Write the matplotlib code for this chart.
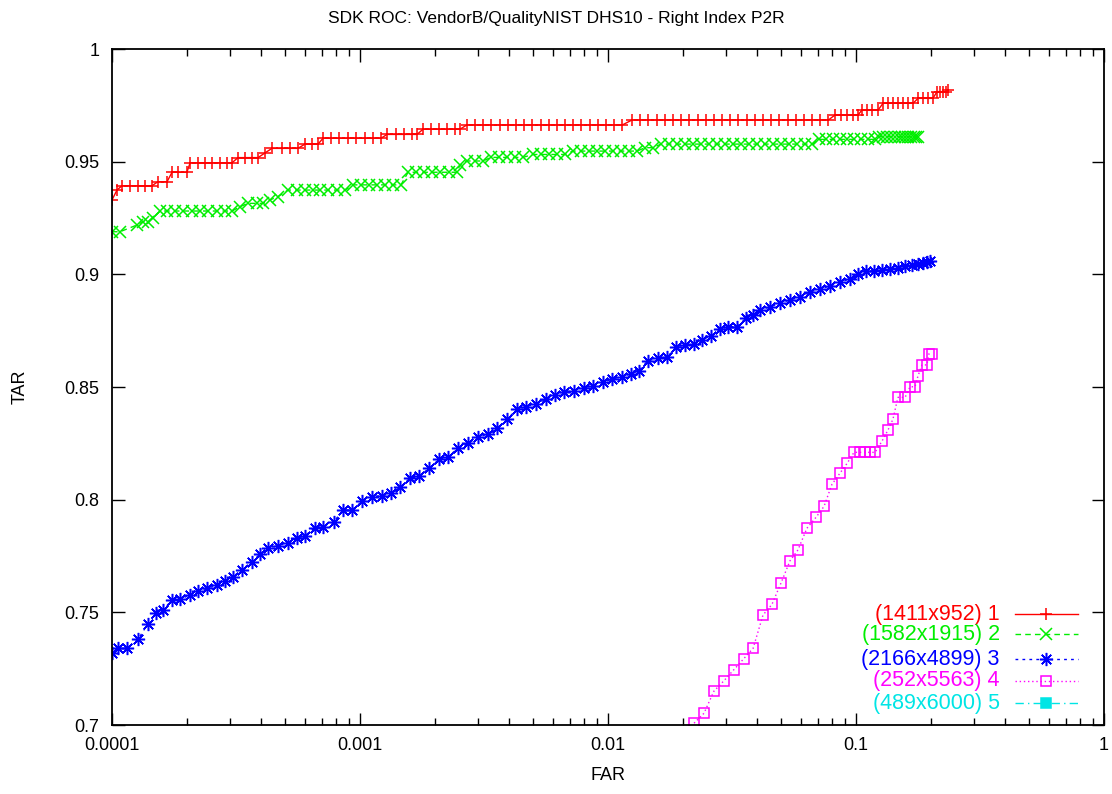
import numpy as np
import matplotlib
matplotlib.use("Agg")
import matplotlib.pyplot as plt
from matplotlib.ticker import FixedLocator, FuncFormatter, NullFormatter

plt.rcParams['font.family'] = ['Liberation Sans', 'DejaVu Sans']

# log10(FAR) and TAR
red_exp = [-4.000, -3.980, -3.960, -3.927, -3.895, -3.867, -3.839, -3.815, -3.778, -3.758,
           -3.734, -3.698, -3.685, -3.653, -3.625, -3.597, -3.565, -3.536, -3.516, -3.492,
           -3.464, -3.435, -3.411, -3.383, -3.355, -3.315, -3.282, -3.250, -3.222, -3.194,
           -3.169, -3.149, -3.117, -3.085, -3.048, -3.016, -2.980, -2.948, -2.915, -2.891,
           -2.855, -2.823, -2.790, -2.770, -2.746, -2.714, -2.681, -2.649, -2.617, -2.597,
           -2.569, -2.536, -2.503, -2.470, -2.437, -2.404, -2.371, -2.338, -2.305, -2.272,
           -2.239, -2.206, -2.173, -2.140, -2.107, -2.074, -2.041, -2.008, -1.975, -1.942,
           -1.903, -1.870, -1.837, -1.804, -1.771, -1.738, -1.705, -1.672, -1.639, -1.606,
           -1.573, -1.540, -1.507, -1.474, -1.441, -1.408, -1.375, -1.342, -1.309, -1.276,
           -1.243, -1.210, -1.177, -1.144, -1.111, -1.085, -1.060, -1.036, -1.012, -0.992,
           -0.976, -0.956, -0.935, -0.911, -0.891, -0.871, -0.851, -0.831, -0.810, -0.790,
           -0.770, -0.750, -0.730, -0.710, -0.690, -0.673, -0.661, -0.649, -0.637, -0.629]
red_tar = [0.9330, 0.9374, 0.9393, 0.9393, 0.9393, 0.9393, 0.9393, 0.9411, 0.9411, 0.9453,
           0.9453, 0.9453, 0.9495, 0.9495, 0.9495, 0.9495, 0.9495, 0.9495, 0.9495, 0.9518,
           0.9518, 0.9518, 0.9518, 0.9539, 0.9559, 0.9559, 0.9559, 0.9559, 0.9578, 0.9578,
           0.9578, 0.9604, 0.9604, 0.9604, 0.9604, 0.9604, 0.9604, 0.9604, 0.9604, 0.9621,
           0.9621, 0.9621, 0.9621, 0.9621, 0.9644, 0.9644, 0.9644, 0.9644, 0.9644, 0.9644,
           0.9663, 0.9663, 0.9663, 0.9663, 0.9663, 0.9663, 0.9663, 0.9663, 0.9663, 0.9663,
           0.9663, 0.9663, 0.9663, 0.9663, 0.9663, 0.9663, 0.9663, 0.9663, 0.9663, 0.9663,
           0.9685, 0.9685, 0.9685, 0.9685, 0.9685, 0.9685, 0.9685, 0.9685, 0.9685, 0.9685,
           0.9685, 0.9685, 0.9685, 0.9685, 0.9685, 0.9685, 0.9685, 0.9685, 0.9685, 0.9685,
           0.9685, 0.9685, 0.9685, 0.9685, 0.9685, 0.9707, 0.9707, 0.9707, 0.9707, 0.9707,
           0.9729, 0.9729, 0.9729, 0.9729, 0.9759, 0.9759, 0.9759, 0.9759, 0.9759, 0.9759,
           0.9759, 0.9781, 0.9781, 0.9781, 0.9781, 0.9811, 0.9811, 0.9811, 0.9811, 0.9818]

green_exp = [-4.000, -3.968, -3.899, -3.875, -3.855, -3.835, -3.806, -3.778, -3.746, -3.714,
             -3.677, -3.645, -3.613, -3.577, -3.544, -3.516, -3.484, -3.452, -3.415, -3.391,
             -3.363, -3.331, -3.290, -3.254, -3.222, -3.190, -3.161, -3.129, -3.093, -3.060,
             -3.028, -2.996, -2.964, -2.931, -2.899, -2.867, -2.835, -2.806, -2.774, -2.742,
             -2.710, -2.677, -2.641, -2.609, -2.597, -2.569, -2.536, -2.504, -2.472, -2.440,
             -2.407, -2.375, -2.343, -2.302, -2.270, -2.238, -2.206, -2.173, -2.141, -2.109,
             -2.077, -2.044, -2.012, -1.980, -1.948, -1.915, -1.883, -1.851, -1.819, -1.786,
             -1.754, -1.722, -1.690, -1.657, -1.625, -1.593, -1.560, -1.528, -1.496, -1.464,
             -1.431, -1.399, -1.367, -1.335, -1.302, -1.270, -1.238, -1.206, -1.177, -1.149,
             -1.121, -1.093, -1.065, -1.036, -1.008, -0.980, -0.952, -0.923, -0.907, -0.891,
             -0.875, -0.859, -0.843, -0.827, -0.815, -0.802, -0.790, -0.778, -0.766, -0.758,
             -0.750]
green_tar = [0.9189, 0.9189, 0.9219, 0.9234, 0.9234, 0.9250, 0.9281, 0.9281, 0.9281, 0.9281,
             0.9281, 0.9281, 0.9281, 0.9281, 0.9281, 0.9281, 0.9300, 0.9315, 0.9315, 0.9315,
             0.9330, 0.9345, 0.9374, 0.9374, 0.9374, 0.9374, 0.9374, 0.9374, 0.9374, 0.9374,
             0.9397, 0.9397, 0.9397, 0.9397, 0.9397, 0.9397, 0.9397, 0.9453, 0.9453, 0.9453,
             0.9453, 0.9453, 0.9453, 0.9453, 0.9485, 0.9503, 0.9503, 0.9503, 0.9519, 0.9519,
             0.9519, 0.9519, 0.9519, 0.9532, 0.9532, 0.9532, 0.9532, 0.9532, 0.9547, 0.9547,
             0.9547, 0.9547, 0.9547, 0.9547, 0.9547, 0.9547, 0.9547, 0.9562, 0.9562, 0.9578,
             0.9578, 0.9578, 0.9578, 0.9578, 0.9578, 0.9578, 0.9578, 0.9578, 0.9578, 0.9578,
             0.9578, 0.9578, 0.9578, 0.9578, 0.9578, 0.9578, 0.9578, 0.9578, 0.9578, 0.9599,
             0.9599, 0.9599, 0.9599, 0.9599, 0.9599, 0.9599, 0.9599, 0.9599, 0.9611, 0.9611,
             0.9611, 0.9611, 0.9611, 0.9611, 0.9611, 0.9611, 0.9611, 0.9611, 0.9611, 0.9611,
             0.9611]

blue_exp = [-4.000, -3.976, -3.940, -3.895, -3.855, -3.823, -3.794, -3.758, -3.726, -3.685,
            -3.653, -3.617, -3.577, -3.544, -3.512, -3.476, -3.435, -3.403, -3.371, -3.331,
            -3.290, -3.254, -3.222, -3.181, -3.149, -3.105, -3.069, -3.032, -2.992, -2.952,
            -2.911, -2.875, -2.839, -2.798, -2.762, -2.722, -2.681, -2.645, -2.605, -2.565,
            -2.524, -2.484, -2.448, -2.407, -2.367, -2.331, -2.290, -2.250, -2.214, -2.177,
            -2.137, -2.097, -2.060, -2.020, -1.984, -1.944, -1.907, -1.875, -1.839, -1.798,
            -1.762, -1.726, -1.690, -1.653, -1.621, -1.585, -1.548, -1.516, -1.480, -1.444,
            -1.415, -1.387, -1.347, -1.306, -1.266, -1.226, -1.185, -1.145, -1.105, -1.065,
            -1.024, -0.992, -0.960, -0.927, -0.895, -0.863, -0.831, -0.802, -0.774, -0.750,
            -0.730, -0.714, -0.702]
blue_tar = [0.7318, 0.7340, 0.7340, 0.7380, 0.7450, 0.7498, 0.7510, 0.7555, 0.7558, 0.7577,
            0.7596, 0.7606, 0.7621, 0.7639, 0.7658, 0.7690, 0.7725, 0.7759, 0.7784, 0.7796,
            0.7809, 0.7829, 0.7840, 0.7876, 0.7880, 0.7903, 0.7952, 0.7955, 0.7992, 0.8014,
            0.8017, 0.8029, 0.8054, 0.8096, 0.8103, 0.8139, 0.8179, 0.8191, 0.8228, 0.8250,
            0.8277, 0.8292, 0.8317, 0.8357, 0.8401, 0.8413, 0.8425, 0.8445, 0.8465, 0.8479,
            0.8482, 0.8497, 0.8506, 0.8520, 0.8535, 0.8546, 0.8558, 0.8573, 0.8617, 0.8628,
            0.8632, 0.8677, 0.8687, 0.8691, 0.8709, 0.8727, 0.8756, 0.8768, 0.8768, 0.8805,
            0.8820, 0.8842, 0.8855, 0.8873, 0.8886, 0.8900, 0.8922, 0.8935, 0.8948, 0.8966,
            0.8980, 0.9000, 0.9015, 0.9015, 0.9020, 0.9024, 0.9028, 0.9037, 0.9040, 0.9046,
            0.9050, 0.9055, 0.9058]

magenta_exp = [-1.653, -1.613, -1.573, -1.532, -1.492, -1.452, -1.415, -1.375, -1.339, -1.302,
               -1.266, -1.234, -1.198, -1.161, -1.129, -1.097, -1.065, -1.036, -1.008, -0.984,
               -0.964, -0.944, -0.923, -0.895, -0.871, -0.851, -0.831, -0.802, -0.782, -0.762,
               -0.750, -0.734, -0.714, -0.706, -0.694]
magenta_tar = [0.7008, 0.7052, 0.7150, 0.7197, 0.7246, 0.7295, 0.7340, 0.7488, 0.7535, 0.7631,
               0.7729, 0.7777, 0.7873, 0.7922, 0.7970, 0.8068, 0.8117, 0.8161, 0.8210, 0.8210,
               0.8210, 0.8210, 0.8210, 0.8260, 0.8309, 0.8357, 0.8454, 0.8454, 0.8501, 0.8501,
               0.8549, 0.8598, 0.8598, 0.8647, 0.8647]

cyan_exp = []
cyan_tar = []

labels = ['(1411x952) 1', '(1582x1915) 2', '(2166x4899) 3', '(252x5563) 4', '(489x6000) 5']
colors = ['#ff0000', '#00ee00', '#0000ff', '#ff00ff', '#00e5e5']
styles = ['-', (0, (4, 3)), (0, (2, 3)), (0, (1, 2)), (0, (6, 3, 1, 3))]
markers = ['+', 'x', (8, 2, 0), 's', 's']
msizes = [8, 8, 9.5, 7.5, 7.5]
fills = ['full', 'full', 'full', 'none', 'full']

series = [(red_exp, red_tar), (green_exp, green_tar), (blue_exp, blue_tar),
          (magenta_exp, magenta_tar), (cyan_exp, cyan_tar)]

fig = plt.figure(figsize=(11.12, 7.94), dpi=100)
ax = fig.add_axes([112 / 1112, 1 - 725 / 794, 992 / 1112, 676 / 794])

for (e, t), c, ls, m, ms, fs in zip(series, colors, styles, markers, msizes, fills):
    far = np.power(10.0, np.array(e, dtype=float))
    ax.plot(far, t, color=c, linestyle=ls, linewidth=1.0, marker=m, markersize=ms,
            markeredgewidth=1.1, fillstyle=fs, clip_on=True)

ax.set_xscale('log')
ax.set_xlim(1e-4, 1)
ax.set_ylim(0.7, 1.0)

ax.xaxis.set_major_locator(FixedLocator([1e-4, 1e-3, 1e-2, 1e-1, 1]))
ax.xaxis.set_major_formatter(FuncFormatter(lambda v, p: '%g' % v))
minors = [k * 10.0 ** d for d in range(-4, 0) for k in range(2, 10)]
ax.xaxis.set_minor_locator(FixedLocator(minors))
ax.xaxis.set_minor_formatter(NullFormatter())
ax.yaxis.set_major_locator(FixedLocator([0.7, 0.75, 0.8, 0.85, 0.9, 0.95, 1.0]))
ax.yaxis.set_major_formatter(FuncFormatter(lambda v, p: '%g' % round(v, 2)))

ax.tick_params(which='major', direction='in', top=True, right=True, length=9, width=1.0,
               labelsize=13, pad=9)
ax.tick_params(which='minor', direction='in', top=True, right=True, length=5, width=1.0)
for s in ax.spines.values():
    s.set_linewidth(1.3)

fig.text(0.5, 1 - 18 / 794, 'SDK ROC: VendorB/QualityNIST DHS10 - Right Index P2R',
         ha='center', va='center', fontsize=12.5)
fig.text(608 / 1112, 1 - 775 / 794, 'FAR', ha='center', va='center', fontsize=13)
fig.text(20 / 1112, 1 - 387 / 794, 'TAR', ha='center', va='center', fontsize=13,
         rotation=90)

# key, drawn gnuplot style: label on the left, sample on the right
row_y = [0.164, 0.1346, 0.0976, 0.0651, 0.0325]
for lab, c, ls, m, ms, fs, y in zip(labels, colors, styles, markers, msizes, fills, row_y):
    ax.text(0.895, y, lab, transform=ax.transAxes, ha='right', va='center',
            color=c, fontsize=15.5)
    ax.plot([0.910, 0.974], [y, y], transform=ax.transAxes, color=c, linestyle=ls,
            linewidth=1.0, clip_on=False)
    ax.plot([0.942], [y], transform=ax.transAxes, color=c, marker=m, markersize=ms,
            markeredgewidth=1.1, fillstyle=fs, linestyle='none', clip_on=False)

fig.savefig('out.png', dpi=100)
